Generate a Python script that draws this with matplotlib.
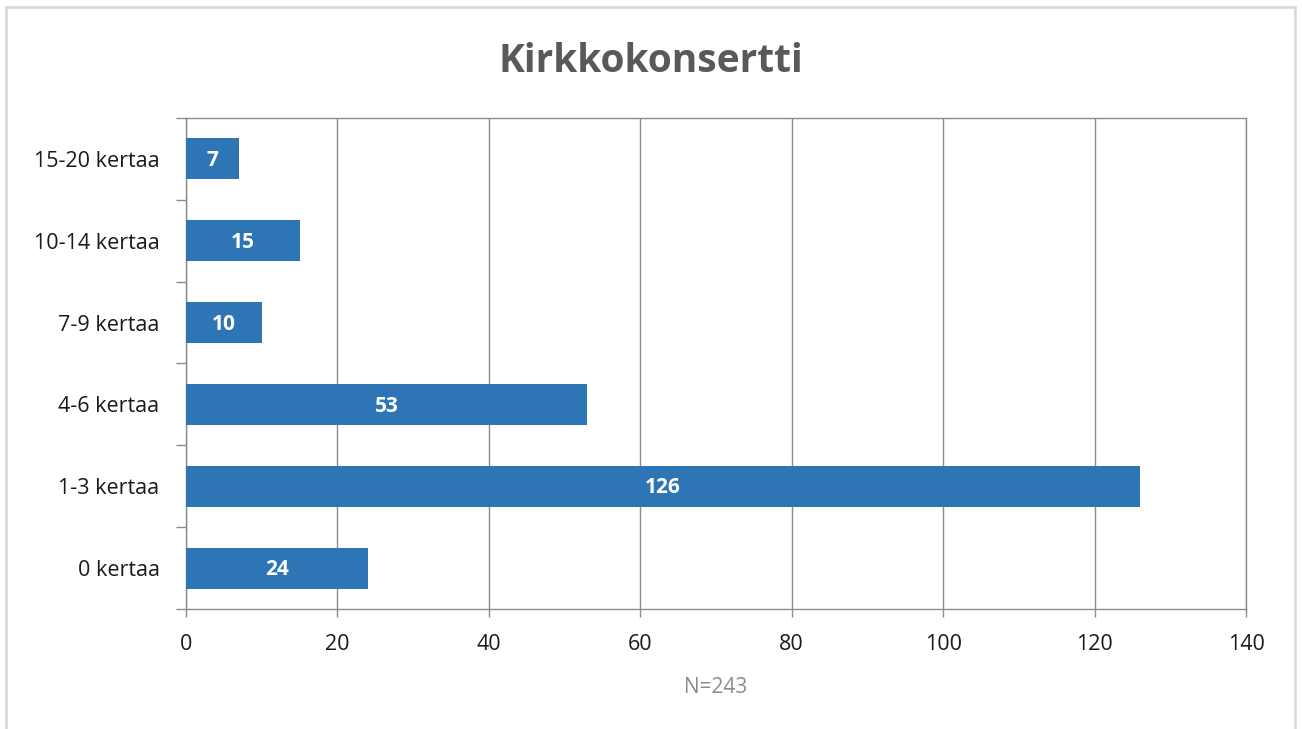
import matplotlib
matplotlib.use("Agg")
import matplotlib.pyplot as plt
from matplotlib.patches import Rectangle

categories = ["0 kertaa", "1-3 kertaa", "4-6 kertaa", "7-9 kertaa", "10-14 kertaa", "15-20 kertaa"]
values = [24, 126, 53, 10, 15, 7]
x_ticks = [0, 20, 40, 60, 80, 100, 120, 140]
title = "Kirkkokonsertti"
note = "N=243"

plt.rcParams["font.family"] = ["Open Sans", "DejaVu Sans"]

fig = plt.figure(figsize=(13.02, 7.29), dpi=100)
ax = fig.add_axes([186 / 1302, 1 - 609 / 729, (1246 - 186) / 1302, (609 - 118) / 729])

bar_color = "#2E75B6"
grid_color = "#8C8C8C"

ypos = list(range(len(categories)))
bars = ax.barh(ypos, values, height=0.5, color=bar_color, zorder=3)
for b, v in zip(bars, values):
    ax.text(b.get_x() + b.get_width() / 2, b.get_y() + b.get_height() / 2 - 0.02, str(v),
            ha="center", va="center", color="white", fontsize=15, fontweight="bold", zorder=4)

ax.set_xlim(0, 140)
ax.set_ylim(-0.5, len(categories) - 0.5)
ax.set_xticks(x_ticks)
ax.set_xticklabels([str(t) for t in x_ticks], fontsize=15.5, color="#1A1A1A")
ax.set_yticks(ypos)
ax.set_yticklabels(categories, fontsize=15.5, color="#1A1A1A")
ax.tick_params(axis="y", length=0, pad=19)
ax.tick_params(axis="x", length=6, width=1, color=grid_color, pad=12)

# category boundary ticks on the y axis
ax.set_yticks([y - 0.5 for y in range(len(categories) + 1)], minor=True)
ax.tick_params(axis="y", which="minor", length=7, width=1, color=grid_color)

ax.grid(axis="x", color=grid_color, linewidth=1, zorder=0)
for s in ax.spines.values():
    s.set_color(grid_color)
    s.set_linewidth(1)

ax.set_xlabel(note, fontsize=15, color="#8C8C8C", labelpad=16)
fig.text(0.5, 1 - 62 / 729, title, ha="center", va="center", fontsize=28,
         fontweight="bold", color="#595959")

# outer chart frame
fig.patches.append(Rectangle((6 / 1302, -0.01), (1295 - 6) / 1302, 1 - 7 / 729 + 0.01,
                             transform=fig.transFigure, fill=False, edgecolor="#D9D9D9",
                             linewidth=2))

fig.savefig("out.png", dpi=100, facecolor="white")
